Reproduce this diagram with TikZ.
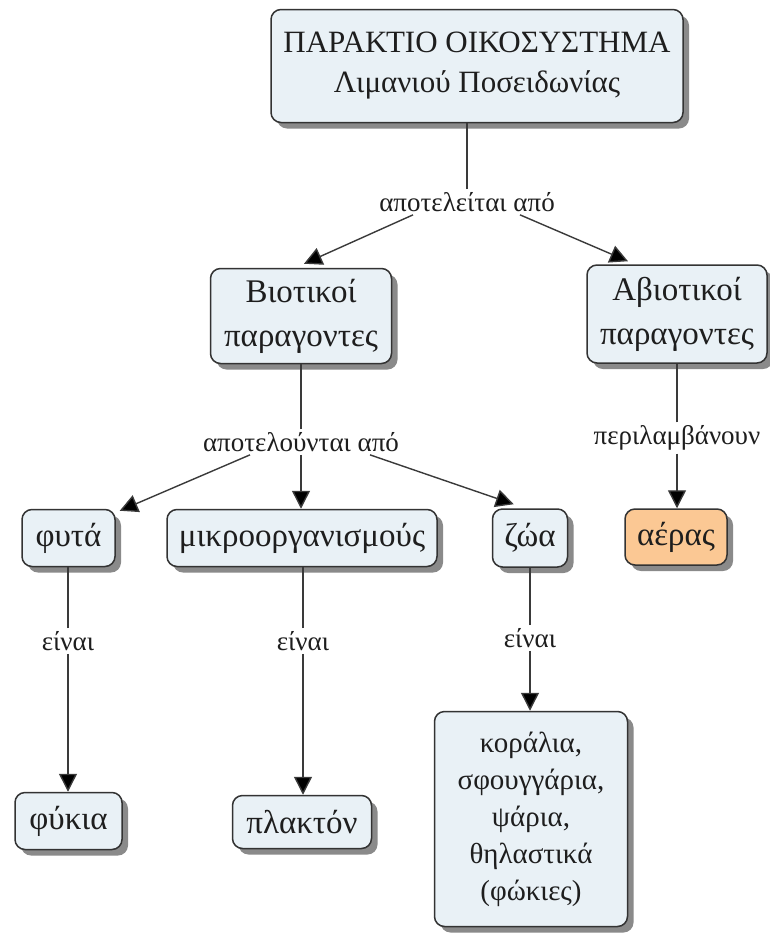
\documentclass[tikz,border=0pt]{standalone}
\usepackage{fontspec}
\setmainfont{Liberation Serif}
\usetikzlibrary{arrows.meta,shadows,calc}
\definecolor{boxfill}{HTML}{E9F1F6}
\definecolor{boxline}{HTML}{333333}
\definecolor{shadowc}{HTML}{8A8A8A}
\definecolor{orangefill}{HTML}{FBC894}
\definecolor{linec}{HTML}{3A3A3A}
\definecolor{txt}{HTML}{1E1E1E}
\begin{document}
\begin{tikzpicture}[x=1pt,y=-1pt,
  concept/.style={draw=boxline, line width=1.5pt, fill=boxfill, rounded corners=10pt,
    align=center, text=txt, font=\fontsize{33}{44}\selectfont, inner sep=0pt,
    drop shadow={shadow xshift=6pt, shadow yshift=-6pt, fill=shadowc, opacity=1}},
  linkl/.style={text=txt, font=\fontsize{27}{30}\selectfont, inner sep=3pt, fill=white},
  conn/.style={draw=linec, line width=1.4pt},
  arr/.style={conn, -{Triangle[length=18pt,width=18pt,fill=black]}}]
\useasboundingbox (0,0) rectangle (769,935);
\fill[white] (0,0) rectangle (769,935);

% concepts
\node[concept, font=\fontsize{31}{40}\selectfont, minimum width=412pt, minimum height=113pt] (top) at (477,66)
  {ΠΑΡΑΚΤΙΟ ΟΙΚΟΣΥΣΤΗΜΑ\\Λιμανιού Ποσειδωνίας};
\node[concept, minimum width=181pt, minimum height=95pt] (bio) at (301,316)
  {Βιοτικοί\\παραγοντες};
\node[concept, minimum width=180pt, minimum height=98pt] (abio) at (677,314)
  {Αβιοτικοί\\παραγοντες};
\node[concept, minimum width=93pt, minimum height=57pt] (phyta) at (68.5,538) {φυτά};
\node[concept, minimum width=270pt, minimum height=57pt] (mikro) at (302,538) {μικροοργανισμούς};
\node[concept, minimum width=75pt, minimum height=58pt] (zoa) at (530,538) {ζώα};
\node[concept, fill=orangefill, minimum width=102pt, minimum height=56pt] (aeras) at (676,537) {αέρας};
\node[concept, minimum width=107pt, minimum height=57pt] (phykia) at (68.5,821) {φύκια};
\node[concept, minimum width=139pt, minimum height=53pt] (plakton) at (302,822) {πλακτόν};
\node[concept, font=\fontsize{29}{37}\selectfont, minimum width=193pt, minimum height=215pt] (big) at (531,819)
  {κοράλια,\\σφουγγάρια,\\ψάρια,\\θηλαστικά\\(φώκιες)};

% linking phrases
\node[linkl] (l1) at (467,202) {αποτελείται από};
\node[linkl] (l2) at (301,442) {αποτελούνται από};
\node[linkl] (l3) at (677,438) {περιλαμβάνουν};
\node[linkl] (l4) at (68,641) {είναι};
\node[linkl] (l5) at (303,641) {είναι};
\node[linkl] (l6) at (530,638) {είναι};

% connectors
\draw[conn] (l1.north) -- (l1.north |- top.south);
\draw[arr] ($(l1.south)+(-54,0)$) -- ($(bio.north)+(3,-4)$);
\draw[arr] ($(l1.south)+(53,0)$) -- ($(abio.north)+(-49,-3)$);

\draw[conn] (l2.north) -- (l2.north |- bio.south);
\draw[arr] ($(l2.south)+(-51,0)$) -- ($(phyta.north east)+(4,2)$);
\draw[arr] (l2.south) -- (l2.south |- mikro.north);
\draw[arr] ($(l2.south)+(69,0)$) -- ($(zoa.north west)+(22,-4)$);

\draw[conn] (l3.north) -- (l3.north |- abio.south);
\draw[arr] (l3.south) -- (l3.south |- aeras.north);

\draw[conn] (l4.north) -- (l4.north |- phyta.south);
\draw[arr] (l4.south) -- (l4.south |- phykia.north);
\draw[conn] (l5.north) -- (l5.north |- mikro.south);
\draw[arr] (l5.south) -- (l5.south |- plakton.north);
\draw[conn] (l6.north) -- (l6.north |- zoa.south);
\draw[arr] (l6.south) -- (l6.south |- big.north);
\end{tikzpicture}
\end{document}
